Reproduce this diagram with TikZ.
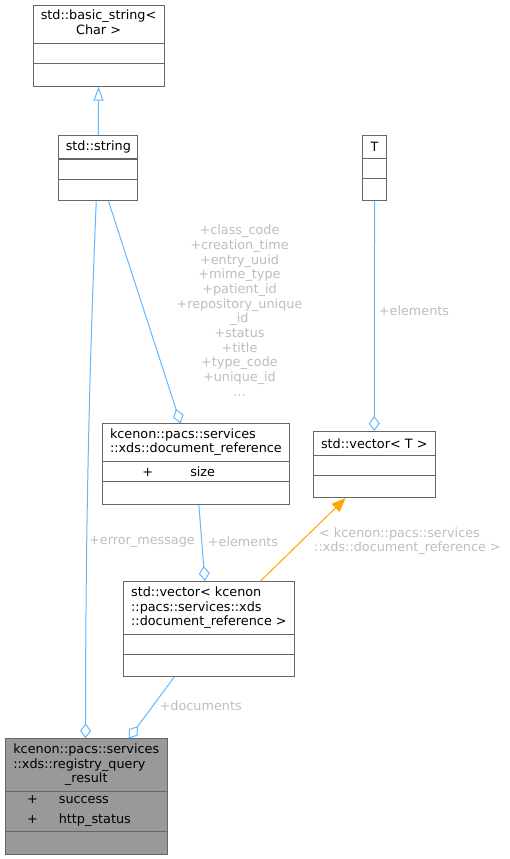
\documentclass[tikz,border=0pt]{standalone}
\usepackage{fontspec}
\setmainfont{DejaVu Sans}
\usetikzlibrary{arrows.meta,shapes.multipart,positioning}

\definecolor{edgeblue}{HTML}{63B8FF}
\definecolor{tmplorange}{HTML}{FFA500}
\definecolor{boxline}{HTML}{666666}
\definecolor{boxfill}{HTML}{999999}
\definecolor{lblgrey}{HTML}{BEBEBE}

\tikzset{
  cls/.style={rectangle split, rectangle split parts=3, draw=boxline, line width=1.1pt,
    fill=white, inner sep=0pt, anchor=north west},
  uses/.style={draw=edgeblue, line width=1pt, -{Diamond[open,length=15pt,width=11pt]}},
  inherit/.style={draw=edgeblue, line width=1pt, -{Triangle[open,length=14pt,width=10pt]}},
  tmpl/.style={draw=tmplorange, line width=1pt, -{Triangle[length=14pt,width=11pt]}},
  lbl/.style={text=lblgrey, inner sep=0pt, align=center},
}
\newcommand{\cell}[3]{\parbox[c][\dimexpr#2pt-1pt\relax][c]{#1pt}{\centering #3}}
\newcommand{\attr}[3]{\hspace*{#1pt}\makebox[#2pt][l]{+}#3}

\begin{document}
\begin{tikzpicture}[x=1pt, y=-1pt, every node/.style={font=\fontsize{12.8}{14.6}\selectfont}]
    \fill[white] (0,0) rectangle (509,859);
    \useasboundingbox (0,0) rectangle (509,859);

    \node[cls] (bstr) at (32.5,4.7) {\cell{131}{38}{\begin{tabular}{@{}l@{}}std::basic\_string<\\\multicolumn{1}{@{}c@{}}{Char >}\end{tabular}}%
      \nodepart{two}\cell{131}{20}{}\nodepart{three}\cell{131}{22.6}{}};
    \node[cls] (strg) at (58.3,134.7) {\cell{79}{23.6}{std::string}%
      \nodepart{two}\cell{79}{20}{}\nodepart{three}\cell{79}{21.7}{}};
    \node[cls] (tt) at (362.3,134.5) {\cell{23.4}{23.3}{T}%
      \nodepart{two}\cell{23.4}{20}{}\nodepart{three}\cell{23.4}{22.2}{}};
    \node[cls] (dref) at (101.7,423.3) {\cell{187.3}{37.4}{\begin{tabular}{@{}l@{}}kcenon::pacs::services\\\multicolumn{1}{@{}c@{}}{::xds::document\_reference}\end{tabular}}%
      \nodepart{two}\parbox[c][19.3pt][c]{187.3pt}{\raggedright\attr{40}{48}{size}}%
      \nodepart{three}\cell{187.3}{23}{}};
    \node[cls] (vect) at (312.7,431) {\cell{122}{24}{std::vector< T >}%
      \nodepart{two}\cell{122}{20}{}\nodepart{three}\cell{122}{21.7}{}};
    \node[cls] (vdr) at (122.7,581) {\cell{171.3}{53}{\begin{tabular}{@{}l@{}}std::vector< kcenon\\::pacs::services::xds\\\multicolumn{1}{@{}c@{}}{::document\_reference >}\end{tabular}}%
      \nodepart{two}\cell{171.3}{20}{}\nodepart{three}\cell{171.3}{22}{}};
    \node[cls, fill=boxfill] (reg) at (4.7,738.3) {\cell{162}{52.4}{\begin{tabular}{@{}l@{}}kcenon::pacs::services\\::xds::registry\_query\\\multicolumn{1}{@{}c@{}}{\_result}\end{tabular}}%
      \nodepart{two}\parbox[c][39pt][c]{162pt}{\raggedright\baselineskip=20pt \attr{22}{31.6}{success}\\\attr{22}{31.6}{http\_status}}%
      \nodepart{three}\cell{162}{22.6}{}};

    \draw[inherit] (strg.north) -- (bstr.south);
    % 成员变量用空心菱形指向所属的类
    \draw[uses] ([xshift=-2.1pt]strg.south) .. controls +(-8,190) and +(0,-180) .. ([xshift=-0.7pt]reg.north);
    \draw[uses] ([xshift=10.2pt]strg.south) -- ([xshift=-15.3pt]dref.north);
    \draw[uses] (tt.south) -- (vect.north);
    \draw[uses] ([xshift=3pt]dref.south) -- ([xshift=-4pt]vdr.north);
    \draw[tmpl] ([xshift=51.7pt]vdr.north) -- ([xshift=-28.7pt]vect.south);
    \draw[uses] ([xshift=-35pt]vdr.south) -- ([xshift=42.6pt]reg.north);

    \node[lbl] (errm) at (142,541.7) {+error\_message};
    \node[lbl, font=\fontsize{12.8}{14.67}\selectfont] (fields) at (239.5,310.7) {+class\_code\\+creation\_time\\+entry\_uuid\\+mime\_type\\+patient\_id\\+repository\_unique\\\_id\\+status\\+title\\+type\_code\\+unique\_id\\...};
    \node[lbl] (elemt) at (414,310.7) {+elements};
    \node[lbl] (elemd) at (243,541.7) {+elements};
    \node[lbl, align=left, anchor=west] (targ) at (314,541.3) {\hspace*{5pt}< kcenon::pacs::services\\::xds::document\_reference >};
    \node[lbl] (docs) at (200.7,706) {+documents};
\end{tikzpicture}
\end{document}
